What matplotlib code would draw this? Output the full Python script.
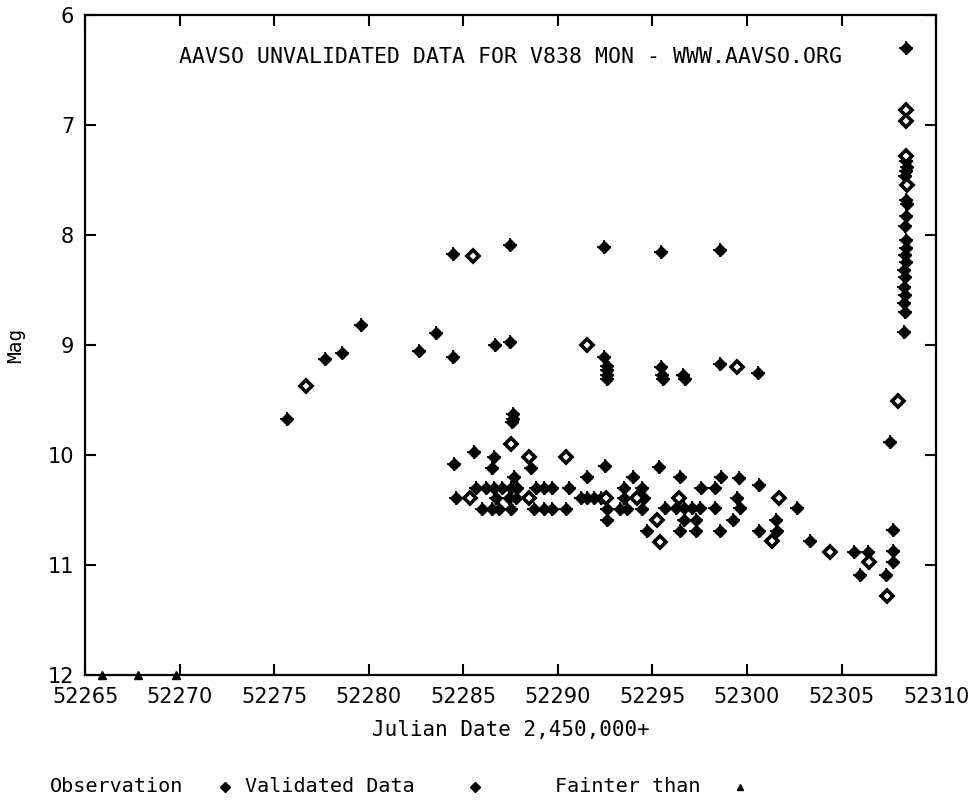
import numpy as np
import matplotlib
matplotlib.use('Agg')
import matplotlib.pyplot as plt
from matplotlib.lines import Line2D

# observations (filled diamonds)
obs_jd = [52275.65, 52277.68, 52278.6, 52279.6, 52282.66, 52283.58, 52284.47, 52284.47,
          52287.45, 52286.67, 52287.47, 52287.6, 52287.62, 52287.55,
          52292.43, 52295.43, 52298.56, 52292.43, 52292.58, 52292.58, 52292.58, 52292.6,
          52295.43, 52295.5, 52295.55, 52296.6, 52296.7, 52298.56, 52300.6,
          52284.51, 52285.56, 52286.6, 52286.53, 52288.56, 52287.68, 52291.55, 52292.47,
          52293.96, 52295.34,
          52285.65, 52286.18, 52286.62, 52287.07, 52287.5, 52287.86, 52288.83, 52289.27,
          52289.7, 52290.58, 52293.49, 52294.46,
          52284.6, 52286.71, 52287.41, 52287.77, 52291.2, 52291.55, 52291.9, 52292.26,
          52293.49, 52294.54,
          52286.0, 52286.54, 52286.89, 52287.5, 52288.73, 52289.26, 52289.7, 52290.41,
          52292.61, 52293.31, 52293.67, 52294.46,
          52292.61, 52294.72, 52296.45, 52297.58, 52298.3, 52298.63, 52299.56, 52300.62,
          52299.47,
          52295.69, 52296.22, 52296.66, 52297.1, 52297.54, 52298.33, 52299.65, 52302.65,
          52296.66, 52297.28, 52299.27, 52301.56,
          52296.45, 52297.28, 52298.56, 52300.62, 52301.59,
          52303.35, 52304.37, 52305.64, 52306.38, 52307.72, 52307.72, 52307.72,
          52305.99, 52307.37, 52307.54,
          52308.4, 52308.4, 52308.45, 52308.4, 52308.35, 52308.4, 52308.45, 52308.4,
          52308.35, 52308.4, 52308.4, 52308.35, 52308.4, 52308.3, 52308.35, 52308.3,
          52308.35, 52308.3, 52308.35, 52308.3]
obs_mag = [9.67, 9.13, 9.07, 8.82, 9.05, 8.89, 9.11, 8.17,
           8.09, 9.00, 8.97, 9.63, 9.67, 9.70,
           8.11, 8.16, 8.14, 9.11, 9.19, 9.23, 9.27, 9.31,
           9.20, 9.27, 9.31, 9.27, 9.31, 9.17, 9.25,
           10.08, 9.97, 10.02, 10.12, 10.12, 10.20, 10.20, 10.10,
           10.20, 10.11,
           10.30, 10.30, 10.30, 10.30, 10.30, 10.30, 10.30, 10.30,
           10.30, 10.30, 10.30, 10.30,
           10.39, 10.39, 10.39, 10.39, 10.39, 10.39, 10.39, 10.39,
           10.39, 10.39,
           10.49, 10.49, 10.49, 10.49, 10.49, 10.49, 10.49, 10.49,
           10.49, 10.49, 10.49, 10.49,
           10.59, 10.69, 10.20, 10.30, 10.30, 10.20, 10.21, 10.27,
           10.39,
           10.48, 10.48, 10.48, 10.48, 10.48, 10.48, 10.48, 10.48,
           10.59, 10.59, 10.59, 10.59,
           10.69, 10.69, 10.69, 10.69, 10.69,
           10.78, 10.88, 10.88, 10.88, 10.87, 10.97, 10.68,
           11.09, 11.09, 9.88,
           6.30, 7.33, 7.38, 7.42, 7.47, 7.68, 7.72, 7.83,
           7.92, 8.05, 8.12, 8.18, 8.25, 8.32, 8.38, 8.47,
           8.55, 8.62, 8.70, 8.88]

# validated data (hollow diamonds)
val_jd = [52276.67, 52285.5, 52291.52, 52299.47, 52285.35, 52288.47, 52288.47, 52290.41,
          52292.52, 52294.19, 52295.25, 52295.39, 52296.4, 52301.68, 52301.33, 52306.43,
          52307.4, 52307.97, 52308.4, 52308.4, 52308.4, 52308.45, 52287.5, 52304.37]
val_mag = [9.37, 8.19, 9.00, 9.20, 10.39, 10.39, 10.02, 10.02,
           10.39, 10.39, 10.59, 10.79, 10.39, 10.39, 10.78, 10.97,
           11.28, 9.51, 6.87, 6.97, 7.28, 7.55, 9.90, 10.88]

# fainter than
faint_jd = [52265.9, 52267.8, 52269.8]
faint_mag = [12.0, 12.0, 12.0]

x_ticks = [52265, 52270, 52275, 52280, 52285, 52290, 52295, 52300, 52305, 52310]
y_ticks = [6, 7, 8, 9, 10, 11, 12]

mono = 'DejaVu Sans Mono'

fig = plt.figure(figsize=(9.68, 8.07), dpi=100)
ax = fig.add_axes([0.088, 0.163, 0.879, 0.819])

ax.plot(obs_jd, obs_mag, 'kD', markersize=6, linestyle='none')
ax.plot(obs_jd, obs_mag, 'k+', markersize=10, markeredgewidth=1.3, linestyle='none')
ax.plot(val_jd, val_mag, 'D', markersize=6.5, markerfacecolor='white',
        markeredgecolor='black', markeredgewidth=2.6, linestyle='none')
ax.plot(faint_jd, faint_mag, 'k^', markersize=6, linestyle='none', clip_on=False)

ax.set_xlim(52265, 52310)
ax.set_ylim(12, 6)
ax.set_xticks(x_ticks)
ax.set_yticks(y_ticks)
ax.ticklabel_format(useOffset=False, style='plain', axis='x')
ax.tick_params(direction='in', length=8, width=1.5, top=True, right=True,
               labelsize=15, pad=8)
for s in ax.spines.values():
    s.set_linewidth(1.6)

ax.text(0.5, 0.935, 'AAVSO UNVALIDATED DATA FOR V838 MON - WWW.AAVSO.ORG',
        transform=ax.transAxes, ha='center', va='center', family=mono, fontsize=15.5)
ax.set_xlabel('Julian Date 2,450,000+', family=mono, fontsize=15, labelpad=10)
ax.set_ylabel('Mag', family=mono, fontsize=14, labelpad=16)

# legend row at the bottom
ly = 1 - 787 / 807.0
fig.text(50 / 968, ly, 'Observation', family=mono, fontsize=14.5, va='center')
fig.text(245 / 968, ly, 'Validated Data', family=mono, fontsize=14.5, va='center')
fig.text(555 / 968, ly, 'Fainter than', family=mono, fontsize=14.5, va='center')
fig.add_artist(Line2D([225 / 968], [ly], marker='D', markersize=5, color='k',
                      transform=fig.transFigure))
fig.add_artist(Line2D([475 / 968], [ly], marker='D', markersize=5, color='k',
                      transform=fig.transFigure))
fig.add_artist(Line2D([740 / 968], [ly], marker='^', markersize=5, color='k',
                      transform=fig.transFigure))

plt.savefig('out.png', dpi=100)
